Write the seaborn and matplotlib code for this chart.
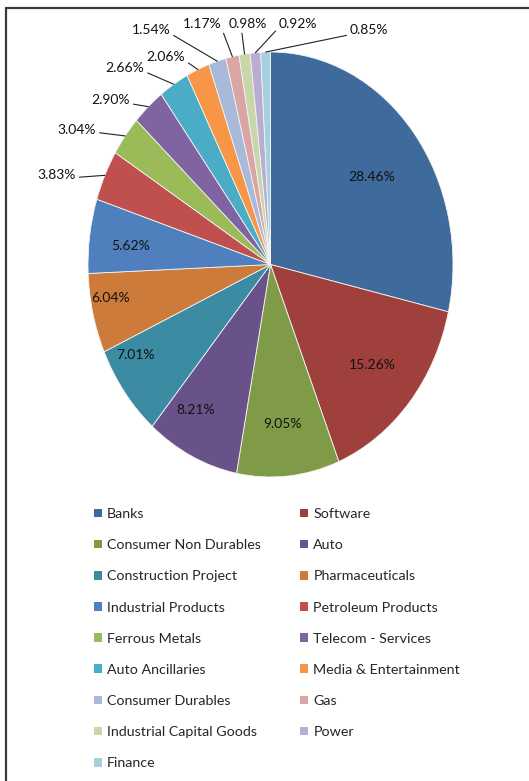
import matplotlib
matplotlib.use("Agg")
import numpy as np
import matplotlib.pyplot as plt
from matplotlib.patches import Patch
from matplotlib.lines import Line2D
import seaborn as sns

# Sector allocation (% of net assets)
sectors = [
    "Banks", "Software", "Consumer Non Durables", "Auto",
    "Construction Project", "Pharmaceuticals", "Industrial Products",
    "Petroleum Products", "Ferrous Metals", "Telecom - Services",
    "Auto Ancillaries", "Media & Entertainment", "Consumer Durables",
    "Gas", "Industrial Capital Goods", "Power", "Finance",
]
weights = [28.46, 15.26, 9.05, 8.21, 7.01, 6.04, 5.62, 3.83, 3.04, 2.90,
           2.66, 2.06, 1.54, 1.17, 0.98, 0.92, 0.85]
value_labels = ["28.46%", "15.26%", "9.05%", "8.21%", "7.01%", "6.04%",
                "5.62%", "3.83%", "3.04%", "2.90%", "2.66%", "2.06%",
                "1.54%", "1.17%", "0.98%", "0.92%", "0.85%"]
colors = ["#3f6a9c", "#a0403c", "#7f9b47", "#69528a", "#3b8ca3", "#cd7b3a",
          "#4f80bd", "#c0504d", "#9bbb59", "#8064a2", "#4bacc6", "#f79646",
          "#a9b9da", "#daa6a5", "#c7d7aa", "#b9aecf", "#a6d0de"]

# label placement (pie units; the pie is an ellipse with radius 1 on both axes)
inner_label_xy = [(0.556, 0.412), (0.556, -0.473), (0.068, -0.751),
                  (-0.408, -0.685), (-0.742, -0.426), (-0.874, -0.158),
                  (-0.766, 0.087)]
outer_label_xy = [(-1.170, 0.421), (-1.060, 0.633), (-0.874, 0.774),
                  (-0.797, 0.925), (-0.573, 0.976), (-0.655, 1.104),
                  (-0.375, 1.132), (-0.123, 1.132), (0.151, 1.132),
                  (0.540, 1.104)]
outer_label_relpos = [(1, 0.3), (1, 0.3), (1, 0.2), (1, 0.2), (1, 0.2),
                      (1, 0.2), (1, 0.2), (0.33, 0.0), (0, 0.2), (0, 0.1)]

sns.set_theme(style="white")
plt.rcParams["font.family"] = ["Lato", "DejaVu Sans"]

W, H = 529, 781
fig = plt.figure(figsize=(W / 100, H / 100), dpi=100)
fig.patch.set_facecolor("white")

# pie centre / radii in pixels (slightly taller than wide)
cx, cy, rx, ry = 270.5, 264.5, 182.5, 212.5
ax = fig.add_axes([0, 0, 1, 1])
wedges, _ = ax.pie(weights, colors=colors, startangle=90, counterclock=False,
                   wedgeprops=dict(edgecolor="#f4f4f4", linewidth=0.6))
ax.set_aspect("auto")
ax.set_xlim(-cx / rx, (W - cx) / rx)
ax.set_ylim(-(H - cy) / ry, cy / ry)
ax.axis("off")

label_font = dict(fontsize=10, color="#111111")
n_inner = len(inner_label_xy)
for i in range(n_inner):
    x, y = inner_label_xy[i]
    ax.text(x, y, value_labels[i], ha="center", va="center", **label_font)

for k, (tx, ty) in enumerate(outer_label_xy):
    w = wedges[n_inner + k]
    mid = np.deg2rad((w.theta1 + w.theta2) / 2)
    ax.annotate(value_labels[n_inner + k], xy=(np.cos(mid), np.sin(mid)),
                xytext=(tx, ty), textcoords="data", ha="center", va="center",
                arrowprops=dict(arrowstyle="-", color="#222222", lw=0.8,
                                shrinkA=0, shrinkB=0,
                                relpos=outer_label_relpos[k]),
                **label_font)

# legend laid out row by row in two columns
handles = [Patch(facecolor=c, edgecolor="none") for c in colors]
order = list(range(0, len(sectors), 2)) + list(range(1, len(sectors), 2))
fig.legend([handles[i] for i in order], [sectors[i] for i in order],
           ncol=2, loc="upper left", bbox_to_anchor=(94 / W, 1 - 508 / H),
           frameon=False, fontsize=10.3, handlelength=0.56, handleheight=0.56,
           handletextpad=0.35, columnspacing=2.75, labelspacing=1.34,
           borderpad=0, borderaxespad=0)

# outer frame (top and left edges)
fig.add_artist(Line2D([6 / W, 6 / W], [0, 1 - 8 / H], transform=fig.transFigure,
                      color="#3a3a3a", lw=1.6))
fig.add_artist(Line2D([6 / W, 1], [1 - 8 / H, 1 - 8 / H], transform=fig.transFigure,
                      color="#3a3a3a", lw=1.6))

fig.savefig("out.png", dpi=100, facecolor="white")
